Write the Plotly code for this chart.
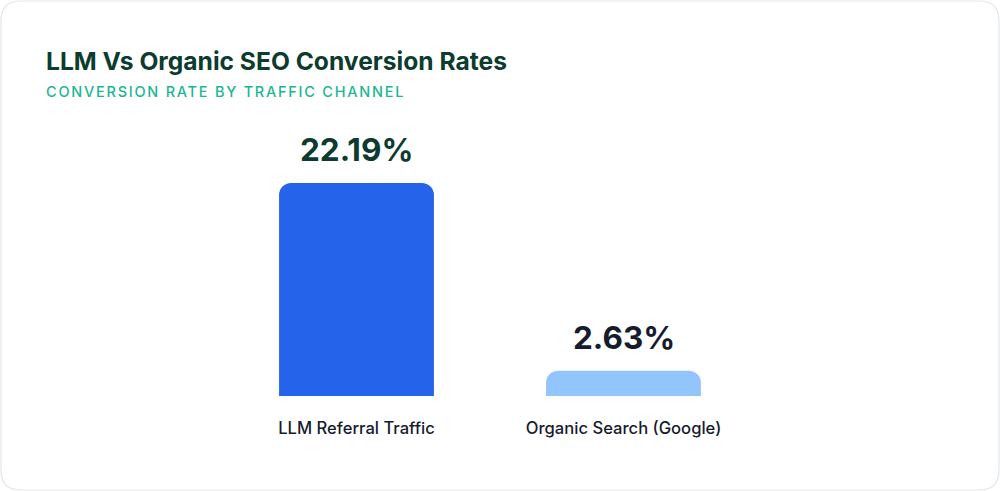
"""LLM vs organic SEO conversion rates - single bar card."""
import plotly.graph_objects as go

channels = ["LLM Referral Traffic", "Organic Search (Google)"]
conversion_rate = [22.19, 2.63]
value_labels = ["22.19%", "2.63%"]

BAR_COLORS = ["#2563eb", "#93c5fd"]
LABEL_COLORS = ["#0d3b31", "#161b2e"]
FONT = "Inter"
SUBTITLE = "CONVERSION RATE BY TRAFFIC CHANNEL"

W, H = 1000, 491
# plot area in pixels
L, R, T, B = 223, 243, 156, 95
PW, PH = W - L - R, H - T - B


def px_x(x):
    return (x - L) / PW


def px_y(y):
    return (H - B - y) / PH


def card_path(x0, y0, x1, y1, r):
    """Rounded rectangle path in paper units from pixel box."""
    rx, ry = r / PW, r / PH
    a, b = px_x(x0), px_x(x1)
    top, bot = px_y(y0), px_y(y1)
    return (f"M{a + rx},{top} L{b - rx},{top} Q{b},{top} {b},{top - ry} "
            f"L{b},{bot + ry} Q{b},{bot} {b - rx},{bot} "
            f"L{a + rx},{bot} Q{a},{bot} {a},{bot + ry} "
            f"L{a},{top - ry} Q{a},{top} {a + rx},{top} Z")


fig = go.Figure(go.Bar(
    x=channels, y=conversion_rate,
    marker=dict(color=BAR_COLORS, cornerradius=12, line=dict(width=0)),
    width=0.58, hoverinfo="skip",
))

annotations = [
    dict(x=c, y=v, xref="x", yref="y", text=t, showarrow=False,
         yanchor="bottom", yshift=12,
         font=dict(family=FONT, size=31.5, weight=700, color=col))
    for c, v, t, col in zip(channels, conversion_rate, value_labels, LABEL_COLORS)
]
annotations += [
    dict(x=px_x(44), y=px_y(61), xref="paper", yref="paper", xanchor="left",
         yanchor="middle", showarrow=False, text="LLM Vs Organic SEO Conversion Rates",
         font=dict(family=FONT, size=24.6, weight=700, color="#0c3b2f")),
    dict(x=px_x(44), y=px_y(91), xref="paper", yref="paper", xanchor="left",
         yanchor="middle", showarrow=False, text=SUBTITLE,
         font=dict(family=FONT, size=14.5, weight=500, color="#1db595")),
]

fig.update_layout(
    width=W, height=H,
    margin=dict(l=L, r=R, t=T, b=B, pad=0),
    paper_bgcolor="white", plot_bgcolor="white",
    showlegend=False,
    annotations=annotations,
    shapes=[dict(type="path", xref="paper", yref="paper",
                 path=card_path(1, 1, 999, 490, 20),
                 line=dict(color="#e4e6ea", width=1.2), layer="below")],
    xaxis=dict(range=[-0.5, 1.5], showgrid=False, zeroline=False, showline=False,
               ticks="", ticklabelstandoff=20,
               tickfont=dict(family=FONT, size=16.6, weight=500, color="#161b2e")),
    yaxis=dict(range=[0, 25], visible=False, fixedrange=True),
)

# drop the default page margin and letter-space the small caps subtitle,
# keeping its left edge where plotly put it
post = """
document.body.style.margin = '0';
document.querySelectorAll('.annotation-text').forEach(function (el) {
  if (el.textContent !== '%s') { return; }
  var left = el.getBBox().x;
  el.style.letterSpacing = '1.75px';
  el.setAttribute('text-anchor', 'start');
  el.setAttribute('x', parseFloat(el.getAttribute('x') || 0) + left - el.getBBox().x);
});
""" % SUBTITLE

fig.write_html("out.html", config={"displayModeBar": False}, post_script=post)
